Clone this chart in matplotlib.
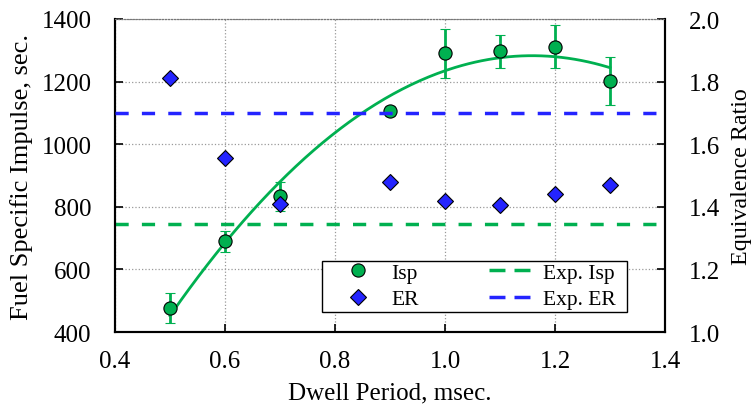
import numpy as np
import matplotlib
matplotlib.use("Agg")
import matplotlib.pyplot as plt
from matplotlib.lines import Line2D
from matplotlib.patches import Rectangle

plt.rcParams['font.family'] = ['Liberation Serif', 'DejaVu Serif']

dwell = [0.5, 0.6, 0.7, 0.9, 1.0, 1.1, 1.2, 1.3]
isp = [477, 690, 834, 1106, 1290, 1297, 1311, 1202]
isp_err = [47, 34, 46, 15, 77, 53, 69, 78]
er = [1.81, 1.556, 1.41, 1.48, 1.42, 1.406, 1.44, 1.47]
exp_isp = 745
exp_er = 1.70

green = '#00B050'
blue = '#2424FF'

fig = plt.figure(figsize=(7.53, 4.10), dpi=100)
ax = fig.add_axes([115/753, 1-333/410, 550/753, 313/410])
ax2 = ax.twinx()

ax.set_xlim(0.4, 1.4)
ax.set_ylim(400, 1400)
ax2.set_ylim(1.0, 2.0)

ax.grid(True, color='#999999', linestyle=':', linewidth=0.9)
ax.set_axisbelow(True)

coef = np.polyfit(dwell, isp, 2)
xf = np.linspace(min(dwell), max(dwell), 200)
ax.plot(xf, np.polyval(coef, xf), color=green, lw=2, zorder=3)

ax.axhline(exp_isp, color=green, lw=2.5, ls=(0, (3.8, 3.8)), zorder=3)
ax2.axhline(exp_er, color=blue, lw=2.5, ls=(0, (3.8, 3.8)), zorder=3)

ax.errorbar(dwell, isp, yerr=isp_err, fmt='o', color=green, ecolor=green,
            elinewidth=2, capsize=3.3, capthick=2, markersize=9.5,
            markeredgecolor='black', markeredgewidth=0.8, zorder=4)
ax2.plot(dwell, er, 'D', color=blue, markersize=8.3, markeredgecolor='black',
         markeredgewidth=0.8, zorder=5)

ax.set_xticks(np.arange(0.4, 1.41, 0.2))
ax.set_xticklabels([f'{v:.1f}' for v in np.arange(0.4, 1.41, 0.2)])
ax.set_yticks(np.arange(400, 1401, 200))
ax2.set_yticks(np.arange(1.0, 2.01, 0.2))
ax2.set_yticklabels([f'{v:.1f}' for v in np.arange(1.0, 2.01, 0.2)])

for a in (ax, ax2):
    a.tick_params(direction='in', length=6, width=1.2, labelsize=18)
    a.tick_params(axis='y', pad=17)
    a.tick_params(axis='x', pad=13)
ax.tick_params(top=False)

ax.set_xlabel('Dwell Period, msec.', fontsize=18, labelpad=6.5)
ax.set_ylabel('Fuel Specific Impulse, sec.', fontsize=19, labelpad=6)
ax2.set_ylabel('Equivalence Ratio', fontsize=17.3, labelpad=8)

for a in (ax, ax2):
    for s in ('left', 'right', 'bottom'):
        a.spines[s].set_linewidth(1.5)
        a.spines[s].set_color('black')
    a.spines['top'].set_color('#777777')
    a.spines['top'].set_linestyle(':')

# legend frame
def ax_x(px):
    return (px - 115) / 550
def ax_y(py):
    return (333 - py) / 313

ax.add_patch(Rectangle((ax_x(322), ax_y(313)), ax_x(627) - ax_x(322), ax_y(262) - ax_y(313),
                       transform=ax.transAxes, facecolor='white', edgecolor='black',
                       linewidth=1.0, zorder=4.8, clip_on=False))

handles = [
    Line2D([], [], marker='o', ls='none', color=green, markeredgecolor='black', markersize=9.5, markeredgewidth=0.8),
    Line2D([], [], marker='D', ls='none', color=blue, markeredgecolor='black', markersize=8.3, markeredgewidth=0.8),
    Line2D([], [], color=green, lw=2.5, ls=(0, (4.6, 2.6))),
    Line2D([], [], color=blue, lw=2.5, ls=(0, (4.6, 2.6))),
]
labels = ['Isp', 'ER', 'Exp. Isp', 'Exp. ER']
leg = ax.legend(handles, labels, ncol=2, loc='lower left',
                bbox_to_anchor=(ax_x(335), ax_y(313), ax_x(618) - ax_x(335), ax_y(262) - ax_y(313)),
                mode='expand', borderaxespad=0, fontsize=15.5, frameon=False,
                borderpad=0.12, labelspacing=0.3,
                handlelength=1.9, columnspacing=1.0, handletextpad=0.6)
leg.set_zorder(5)

fig.savefig('out.png', dpi=100)
